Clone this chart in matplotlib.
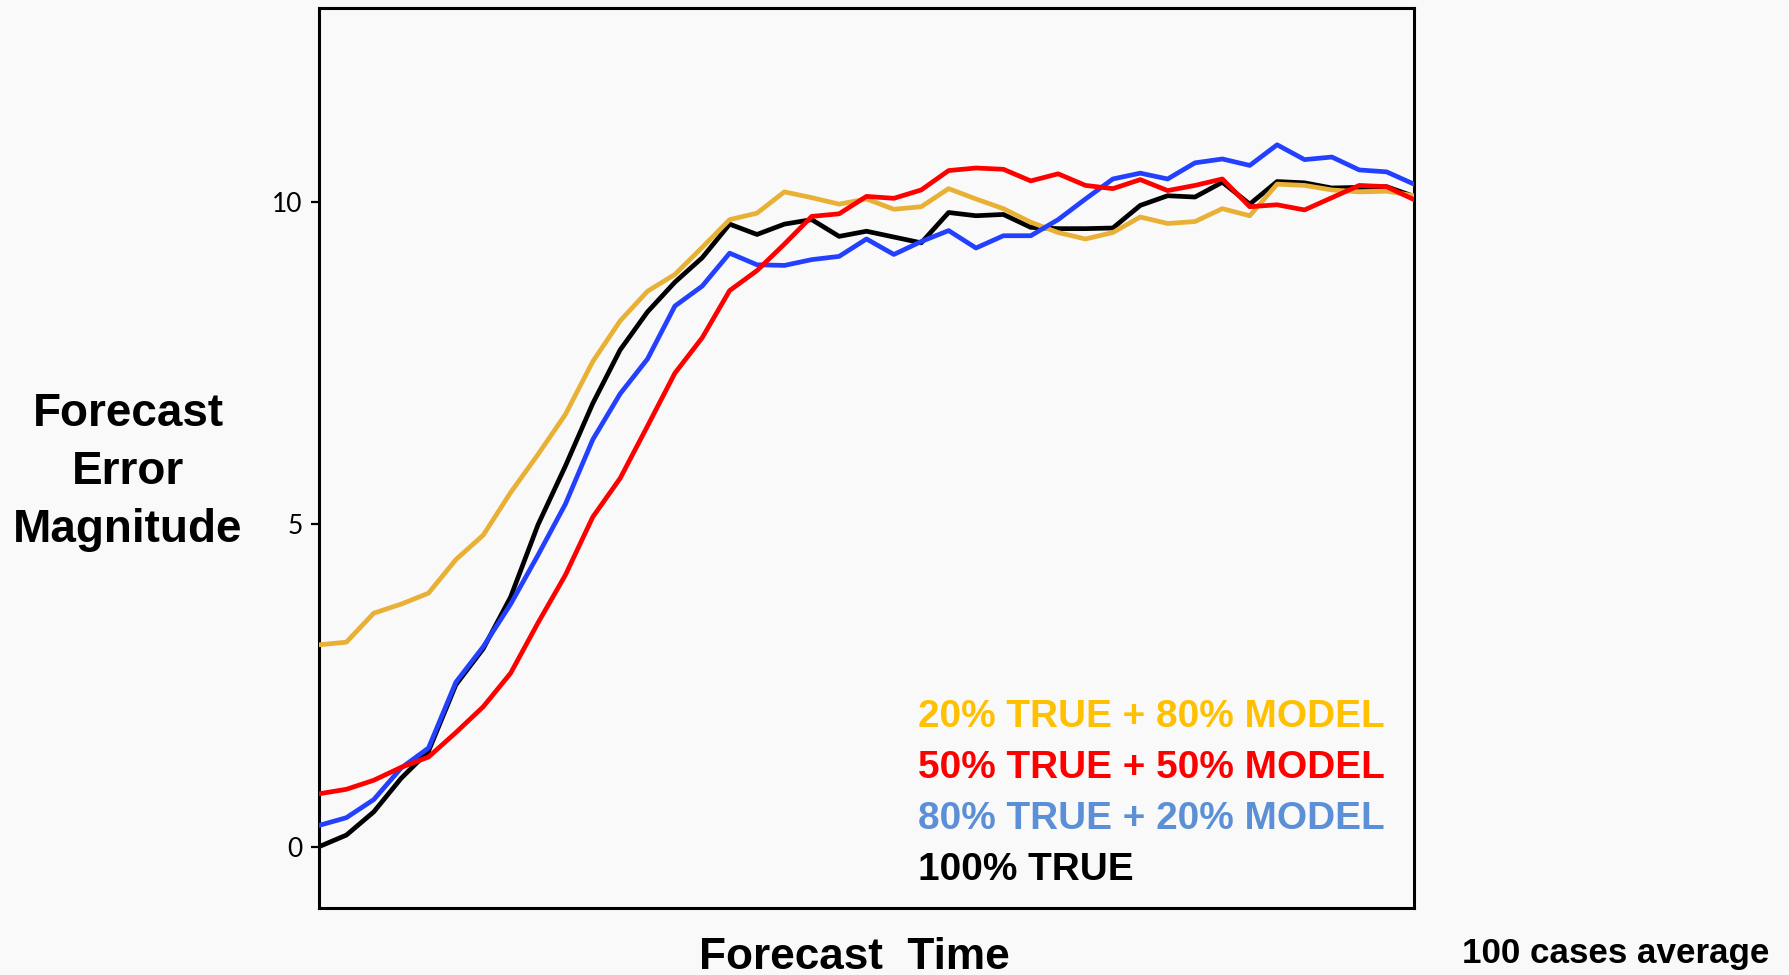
import matplotlib
matplotlib.use("Agg")
import matplotlib.pyplot as plt
import numpy as np

# ── Data (41 forecast steps) ─────────────────────────────────────────────────
steps = np.arange(41)

err_20true = [3.13, 3.17, 3.62, 3.76, 3.93, 4.45, 4.83, 5.49, 6.08, 6.70,
              7.52, 8.15, 8.61, 8.87, 9.29, 9.72, 9.82, 10.15, 10.06, 9.96,
              10.04, 9.88, 9.92, 10.20, 10.04, 9.89, 9.68, 9.52, 9.42, 9.52,
              9.76, 9.66, 9.69, 9.89, 9.78, 10.27, 10.25, 10.18, 10.15, 10.16,
              10.09]
err_50true = [0.82, 0.89, 1.03, 1.23, 1.39, 1.77, 2.17, 2.69, 3.47, 4.21,
              5.11, 5.71, 6.52, 7.34, 7.89, 8.62, 8.93, 9.34, 9.77, 9.81,
              10.08, 10.05, 10.18, 10.48, 10.52, 10.50, 10.32, 10.43, 10.25, 10.20,
              10.34, 10.17, 10.25, 10.35, 9.92, 9.95, 9.87, 10.06, 10.25, 10.23,
              10.03]
err_80true = [0.33, 0.45, 0.73, 1.22, 1.53, 2.55, 3.10, 3.76, 4.52, 5.31,
              6.31, 7.02, 7.56, 8.38, 8.69, 9.20, 9.02, 9.01, 9.10, 9.15,
              9.42, 9.18, 9.38, 9.55, 9.28, 9.47, 9.47, 9.72, 10.04, 10.35,
              10.44, 10.35, 10.60, 10.66, 10.56, 10.88, 10.65, 10.69, 10.49, 10.46,
              10.27]
err_100true = [0.0, 0.18, 0.54, 1.06, 1.48, 2.51, 3.07, 3.87, 4.99, 5.90,
               6.87, 7.70, 8.29, 8.75, 9.13, 9.65, 9.49, 9.65, 9.72, 9.46,
               9.54, 9.45, 9.36, 9.83, 9.78, 9.80, 9.60, 9.58, 9.58, 9.59,
               9.94, 10.09, 10.07, 10.30, 9.96, 10.31, 10.29, 10.21, 10.22, 10.23,
               10.08]

labels = ["20% TRUE + 80% MODEL", "50% TRUE + 50% MODEL",
          "80% TRUE + 20% MODEL", "100% TRUE"]
yticks = [0, 5, 10]

# ── Style ────────────────────────────────────────────────────────────────────
bg = "#f9f9f9"
bold_font = ["Liberation Sans", "DejaVu Sans"]
tick_font = ["Lato", "DejaVu Sans"]

fig = plt.figure(figsize=(17.89, 9.75), dpi=100, facecolor=bg)
ax = fig.add_axes([319 / 1789, 1 - 908 / 975, (1414 - 319) / 1789, 900 / 975])
ax.set_facecolor(bg)

lw = 3.4
ax.plot(steps, err_100true, color="#000000", lw=lw, zorder=2)
ax.plot(steps, err_20true, color="#e8b034", lw=lw, zorder=3)
ax.plot(steps, err_80true, color="#2440ff", lw=lw, zorder=4)
ax.plot(steps, err_50true, color="#ff0000", lw=lw, zorder=5)

ax.set_xlim(0, 40)
ax.set_ylim(-0.95, 13)
ax.set_xticks([])
ax.set_yticks(yticks)
ax.set_yticklabels([str(t) for t in yticks], family=tick_font,
                   fontweight="normal", fontsize=19, color="black")
ax.tick_params(axis="y", length=6, width=1.6, pad=6, direction="out")
for sp in ax.spines.values():
    sp.set_linewidth(2.2)
    sp.set_color("black")

# ── Legend-like coloured labels ──────────────────────────────────────────────
text_colors = ["#ffc000", "#ff0000", "#5b8fd6", "#000000"]
baselines = [727, 778, 829, 880]
for lab, col, yb in zip(labels, text_colors, baselines):
    fig.text(918 / 1789, 1 - yb / 975, lab, color=col, fontsize=27.9,
             fontweight="bold", family=bold_font, ha="left", va="baseline")

# ── Axis titles ──────────────────────────────────────────────────────────────
fig.text(128 / 1789, 1 - 472 / 975, "Forecast\nError\nMagnitude",
         ha="center", va="center", fontsize=33, fontweight="bold",
         family=bold_font, linespacing=1.42)
fig.text(854 / 1789, 1 - 969 / 975, "Forecast  Time", ha="center",
         va="baseline", fontsize=31.8, fontweight="bold", family=bold_font)
fig.text(1616 / 1789, 1 - 963 / 975, "100 cases average", ha="center",
         va="baseline", fontsize=25.2, fontweight="bold", family=bold_font)

fig.savefig("out.png", dpi=100, facecolor=bg)
